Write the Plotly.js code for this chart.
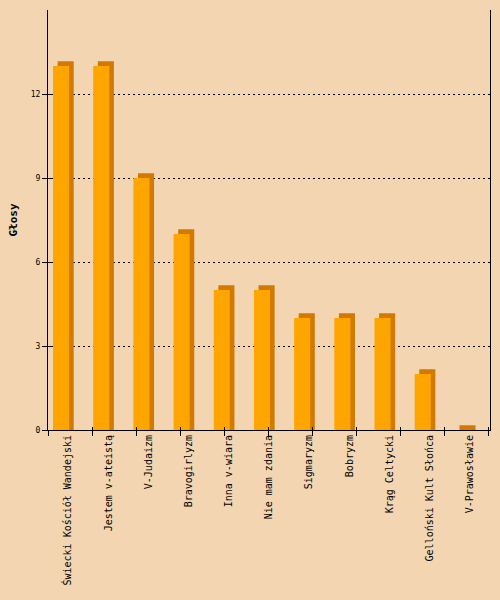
<!DOCTYPE html>
<html><head><meta charset="utf-8">
<script src="https://cdn.plot.ly/plotly-3.0.1.min.js"></script>
<style>html,body{margin:0;padding:0;background:#F3D6B1;}#c{width:500px;height:600px;}</style>
</head><body><div id="c"></div>
<script>
const categories = ["Świecki Kościół Wandejski","Jestem v-ateistą","V-Judaizm","Bravogirlyzm","Inna v-wiara","Nie mam zdania","Sigmaryzm","Bobryzm","Krąg Celtycki","Gelloński Kult Słońca","V-Prawosławie"];
const votes = [13,13,9,7,5,5,4,4,4,2,0];
const yTicks = [0,3,6,9,12];
const depth = 0.17;

const bg = "#F3D6B1";
const mono = "DejaVu Sans Mono";

const side = {
  type: "bar", x: categories, y: votes.map(v => v + depth), base: 0,
  width: 0.4, offset: -0.26,
  marker: {color: "#D27A00", line: {width: 0}},
  hoverinfo: "skip", xaxis: "x", yaxis: "y"
};
const front = {
  type: "bar", x: categories, y: votes,
  width: 0.4, offset: -0.375,
  marker: {color: "#FFA500", line: {width: 0}},
  xaxis: "x", yaxis: "y"
};
const layout = {
  width: 500, height: 600,
  paper_bgcolor: bg, plot_bgcolor: bg,
  margin: {l: 48, r: 10, t: 10, b: 170},
  barmode: "overlay", showlegend: false,
  font: {family: mono, color: "#000"},
  xaxis: {type: "category", range: [-0.5, 10.5], tickangle: -90,
          tickfont: {family: mono, size: 10}, ticks: "", showgrid: false,
          showline: true, linecolor: "#000", linewidth: 1, zeroline: false, fixedrange: true},
  xaxis2: {overlaying: "x", anchor: "y", type: "linear", range: [0, 442/44],
           tickvals: [0,1,2,3,4,5,6,7,8,9,10], ticks: "outside", ticklen: 5, tickcolor: "#000",
           showticklabels: false, showgrid: false, zeroline: false, showline: false},
  xaxis3: {overlaying: "x", anchor: "y", type: "linear", range: [0, 442/44],
           tickvals: [0,1,2,3,4,5,6,7,8,9,10], ticks: "inside", ticklen: 3, tickcolor: "#000",
           showticklabels: false, showgrid: false, zeroline: false, showline: false},
  yaxis: {range: [0, 15], tickvals: yTicks, ticktext: yTicks.map(String),
          ticks: "outside", ticklen: 5, tickcolor: "#000",
          tickfont: {family: mono, size: 8},
          showgrid: true, gridcolor: "#000", griddash: "2px,3px", gridwidth: 1,
          zeroline: false, showline: true, linecolor: "#000", linewidth: 1,
          title: {text: "<b>Głosy</b>", font: {family: mono, size: 11}, standoff: 10},
          fixedrange: true},
  yaxis2: {overlaying: "y", anchor: "x", side: "left", range: [0, 15], tickvals: yTicks,
           ticks: "inside", ticklen: 5, tickcolor: "#000", showticklabels: false,
           showgrid: false, zeroline: false, showline: false},
  yaxis3: {overlaying: "y", anchor: "x", side: "right", range: [0, 15],
           ticks: "", showticklabels: false, showgrid: false, zeroline: false,
           showline: true, linecolor: "#000", linewidth: 1}
};
const dummy = [
  {type: "scatter", x: [0], y: [0], xaxis: "x2", yaxis: "y2", mode: "markers", marker: {opacity: 0}, hoverinfo: "skip"},
  {type: "scatter", x: [0], y: [0], xaxis: "x3", yaxis: "y3", mode: "markers", marker: {opacity: 0}, hoverinfo: "skip"}
];
Plotly.newPlot("c", [side, front].concat(dummy), layout, {displayModeBar: false, staticPlot: true});
</script></body></html>
